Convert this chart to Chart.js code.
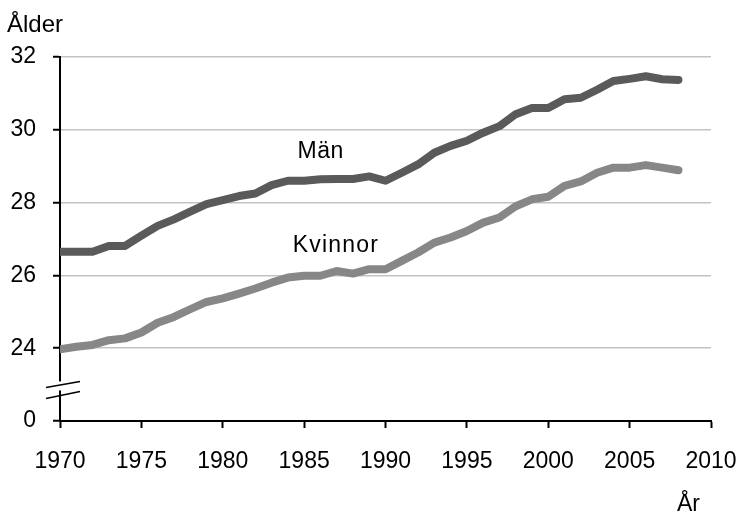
<!DOCTYPE html>
<html>
<head>
<meta charset="utf-8">
<script src="https://cdn.jsdelivr.net/npm/chart.js@4"></script>
<style>
  html, body { margin: 0; padding: 0; background: #fff; }
  #wrap { width: 740px; height: 513px; }
</style>
</head>
<body>
<div id="wrap"><canvas id="chart" width="740" height="513"></canvas></div>
<script>
// år 1970-2008
const ar = [1970, 1971, 1972, 1973, 1974, 1975, 1976, 1977, 1978, 1979,
            1980, 1981, 1982, 1983, 1984, 1985, 1986, 1987, 1988, 1989,
            1990, 1991, 1992, 1993, 1994, 1995, 1996, 1997, 1998, 1999,
            2000, 2001, 2002, 2003, 2004, 2005, 2006, 2007, 2008];

// medelålder, män
const man = [26.65, 26.65, 26.65, 26.81, 26.81, 27.09, 27.36, 27.54, 27.75, 27.96,
             28.07, 28.18, 28.25, 28.48, 28.6, 28.6, 28.64, 28.65, 28.65, 28.72,
             28.6, 28.82, 29.05, 29.37, 29.56, 29.7, 29.92, 30.1, 30.43, 30.6,
             30.6, 30.84, 30.88, 31.1, 31.34, 31.4, 31.47, 31.39, 31.37];

// medelålder, kvinnor
const kvinnor = [23.97, 24.04, 24.09, 24.22, 24.27, 24.43, 24.7, 24.86, 25.07, 25.27,
                 25.37, 25.5, 25.64, 25.8, 25.94, 25.99, 25.99, 26.12, 26.05, 26.17,
                 26.17, 26.4, 26.63, 26.9, 27.04, 27.22, 27.45, 27.59, 27.9, 28.09,
                 28.16, 28.46, 28.58, 28.82, 28.96, 28.96, 29.03, 28.96, 28.89];

// y-axeln är bruten: 22 visas som 0
const yTicks = [22, 24, 26, 28, 30, 32];
const yTickText = ['0', '24', '26', '28', '30', '32'];
const xTicks = [1970, 1975, 1980, 1985, 1990, 1995, 2000, 2005, 2010];

const FONT = "'Liberation Sans', Arial, sans-serif";

const toPoints = vals => vals.map((v, i) => ({ x: ar[i], y: v }));

// etiketter, axelbrytning
const extras = {
    id: 'extras',
    afterDraw(chart) {
        const ctx = chart.ctx;
        const xs = chart.scales.x;
        const ys = chart.scales.y;
        const ax = chart.chartArea.left;
        const yb = ys.getPixelForValue(22.95);

        ctx.save();
        // gap i axeln
        ctx.fillStyle = '#fff';
        ctx.fillRect(ax - 3, yb - 5, 6, 9);
        ctx.strokeStyle = '#000';
        ctx.lineWidth = 1.6;
        ctx.beginPath();
        ctx.moveTo(ax - 14, yb + 1);
        ctx.lineTo(ax + 20, yb - 5);
        ctx.moveTo(ax - 14, yb + 12);
        ctx.lineTo(ax + 20, yb + 5);
        ctx.stroke();

        ctx.fillStyle = '#000';
        ctx.textBaseline = 'alphabetic';
        ctx.textAlign = 'left';
        ctx.font = '24px ' + FONT;
        ctx.fillText('Ålder', 7, 32);
        ctx.font = '23px ' + FONT;
        ctx.fillText('År', 677, 511);

        ctx.letterSpacing = '0.5px';
        ctx.fillText('Män', xs.getPixelForValue(1984.6), ys.getPixelForValue(29.22));
        ctx.letterSpacing = '1.2px';
        ctx.fillText('Kvinnor', xs.getPixelForValue(1984.3), ys.getPixelForValue(26.64));
        ctx.restore();
    }
};

new Chart(document.getElementById('chart'), {
    type: 'line',
    data: {
        datasets: [{
            label: 'Män',
            data: toPoints(man),
            borderColor: '#5a5a5a',
            borderWidth: 8,
            pointRadius: 0,
            tension: 0,
            borderJoinStyle: 'round',
            borderCapStyle: 'round',
            clip: { left: 0, top: 8, right: 8, bottom: 8 }
        }, {
            label: 'Kvinnor',
            data: toPoints(kvinnor),
            borderColor: '#878787',
            borderWidth: 8,
            pointRadius: 0,
            tension: 0,
            borderJoinStyle: 'round',
            borderCapStyle: 'round',
            clip: { left: 0, top: 8, right: 8, bottom: 8 }
        }]
    },
    options: {
        responsive: false,
        animation: false,
        layout: { padding: { top: 57, right: 29, left: 0, bottom: 0 } },
        plugins: {
            legend: { display: false },
            tooltip: { enabled: false }
        },
        scales: {
            x: {
                type: 'linear',
                min: 1970,
                max: 2010,
                afterBuildTicks: s => { s.ticks = xTicks.map(v => ({ value: v })); },
                afterFit: s => {
                    s.height = 92;
                    s.paddingLeft = 0;
                    s.paddingRight = 0;
                },
                ticks: {
                    color: '#000',
                    font: { family: FONT, size: 23 },
                    padding: 20,
                    maxRotation: 0,
                    callback: v => String(v)
                },
                grid: {
                    drawOnChartArea: false,
                    drawTicks: true,
                    tickLength: 7,
                    tickColor: '#000',
                    tickWidth: 2
                },
                border: { display: true, color: '#000', width: 2 }
            },
            y: {
                min: 22,
                max: 32,
                afterBuildTicks: s => { s.ticks = yTicks.map(v => ({ value: v })); },
                afterFit: s => {
                    s.width = 60;
                    s.paddingTop = 0;
                    s.paddingBottom = 0;
                },
                ticks: {
                    color: '#000',
                    font: { family: FONT, size: 23 },
                    padding: 17,
                    callback: v => yTickText[yTicks.indexOf(v)]
                },
                grid: {
                    color: c => (c.tick && c.tick.value === 22) ? 'rgba(0,0,0,0)' : '#c3c3c3',
                    lineWidth: 1.5,
                    tickLength: 7,
                    tickColor: '#000',
                    tickWidth: 2
                },
                border: { display: true, color: '#000', width: 2 }
            }
        }
    },
    plugins: [extras]
});
</script>
</body>
</html>
